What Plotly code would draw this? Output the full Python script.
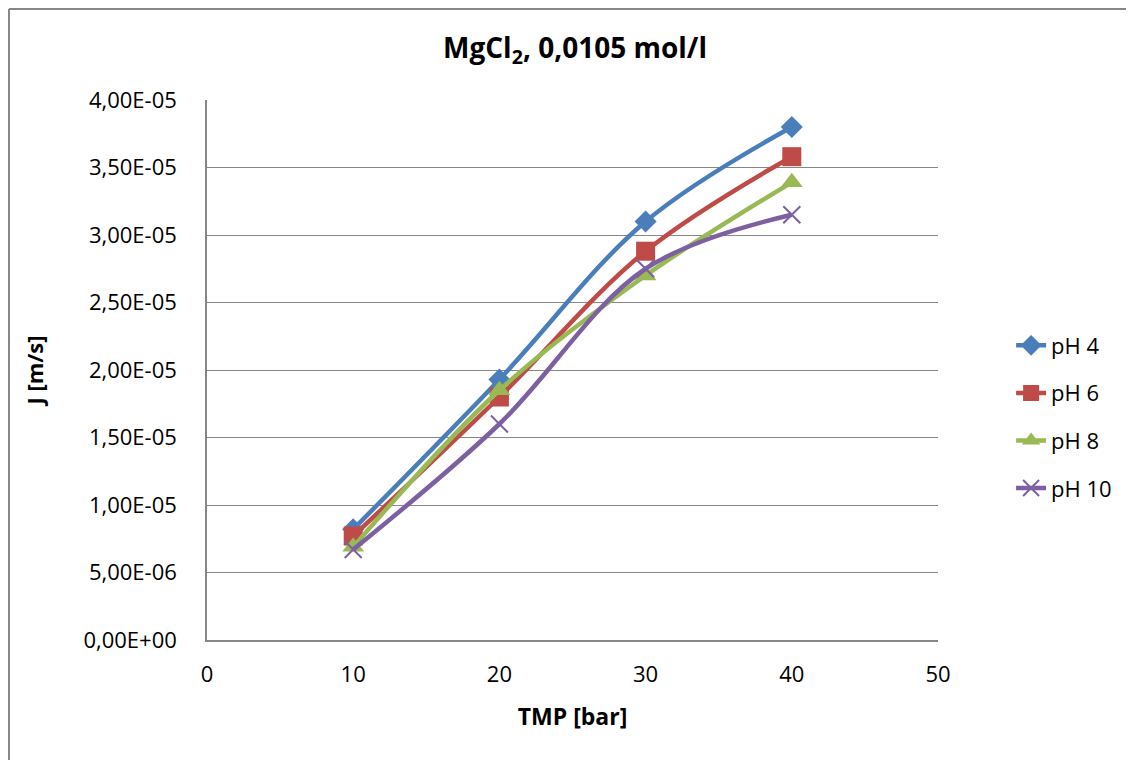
import plotly.graph_objects as go

tmp = [10, 20, 30, 40]
ph4 = [8.2e-6, 1.93e-5, 3.10e-5, 3.80e-5]
ph6 = [7.7e-6, 1.80e-5, 2.88e-5, 3.58e-5]
ph8 = [6.9e-6, 1.85e-5, 2.70e-5, 3.39e-5]
ph10 = [6.7e-6, 1.60e-5, 2.75e-5, 3.15e-5]

series_names = ["pH 4", "pH 6", "pH 8", "pH 10"]
y_tick_vals = [0, 5e-6, 1e-5, 1.5e-5, 2e-5, 2.5e-5, 3e-5, 3.5e-5, 4e-5]
y_tick_text = ["0,00E+00", "5,00E-06", "1,00E-05", "1,50E-05", "2,00E-05",
               "2,50E-05", "3,00E-05", "3,50E-05", "4,00E-05"]
x_tick_vals = [0, 10, 20, 30, 40, 50]

colors = ["#4A7EBB", "#BE4B48", "#98B954", "#7D60A0"]
symbols = ["diamond", "square", "triangle-up", "x-thin"]
sizes = [17, 19, 19, 17]

fig = go.Figure()
for name, vals, c, s, sz in zip(series_names, [ph4, ph6, ph8, ph10], colors, symbols, sizes):
    marker = dict(symbol=s, size=sz, color=c)
    if s == "x-thin":
        marker["line"] = dict(color=c, width=2)
    fig.add_trace(go.Scatter(
        x=tmp, y=vals, name=name, mode="lines+markers", legendgroup=name,
        line=dict(color=c, width=4.5, shape="spline", smoothing=1),
        marker=marker,
    ))

font_family = "Open Sans, Liberation Sans, sans-serif"
border = dict(color="#868686", width=2)

fig.update_layout(
    width=1134, height=760,
    margin=dict(l=199, r=204, t=92, b=128),
    paper_bgcolor="white", plot_bgcolor="white",
    font=dict(family=font_family, color="black", size=22),
    title=dict(text="<b>MgCl<sub>2</sub>, 0,0105 mol/l</b>", x=0.5, xanchor="center",
               y=0.947, yanchor="middle", font=dict(size=28)),
    legend=dict(x=1.10, y=0.413, xanchor="left", yanchor="middle",
                font=dict(size=22), tracegroupgap=16),
    showlegend=True,
    shapes=[
        dict(type="line", xref="paper", yref="paper",
             x0=-0.2709, x1=-0.2709, y0=-0.4, y1=1.1685, line=border, layer="below"),
        dict(type="line", xref="paper", yref="paper",
             x0=-0.2709, x1=1.6, y0=1.1685, y1=1.1685, line=border, layer="below"),
    ],
)
fig.update_xaxes(
    range=[0, 50], tickvals=x_tick_vals, showgrid=False,
    showline=True, linecolor="#868686", linewidth=1.5, zeroline=False,
    ticks="", ticklen=0, ticklabelstandoff=14,
    title=dict(text="<b>TMP [bar]</b>", font=dict(size=23), standoff=22),
)
fig.update_yaxes(
    range=[0, 4e-5], tickvals=y_tick_vals, ticktext=y_tick_text,
    showgrid=True, gridcolor="#868686", gridwidth=1,
    showline=True, linecolor="#868686", linewidth=1.5, zeroline=False,
    ticks="", ticklen=0, ticklabelstandoff=24,
    title=dict(text="<b>J [m/s]</b>", font=dict(size=22), standoff=34),
)

fig.write_html("out.html")
